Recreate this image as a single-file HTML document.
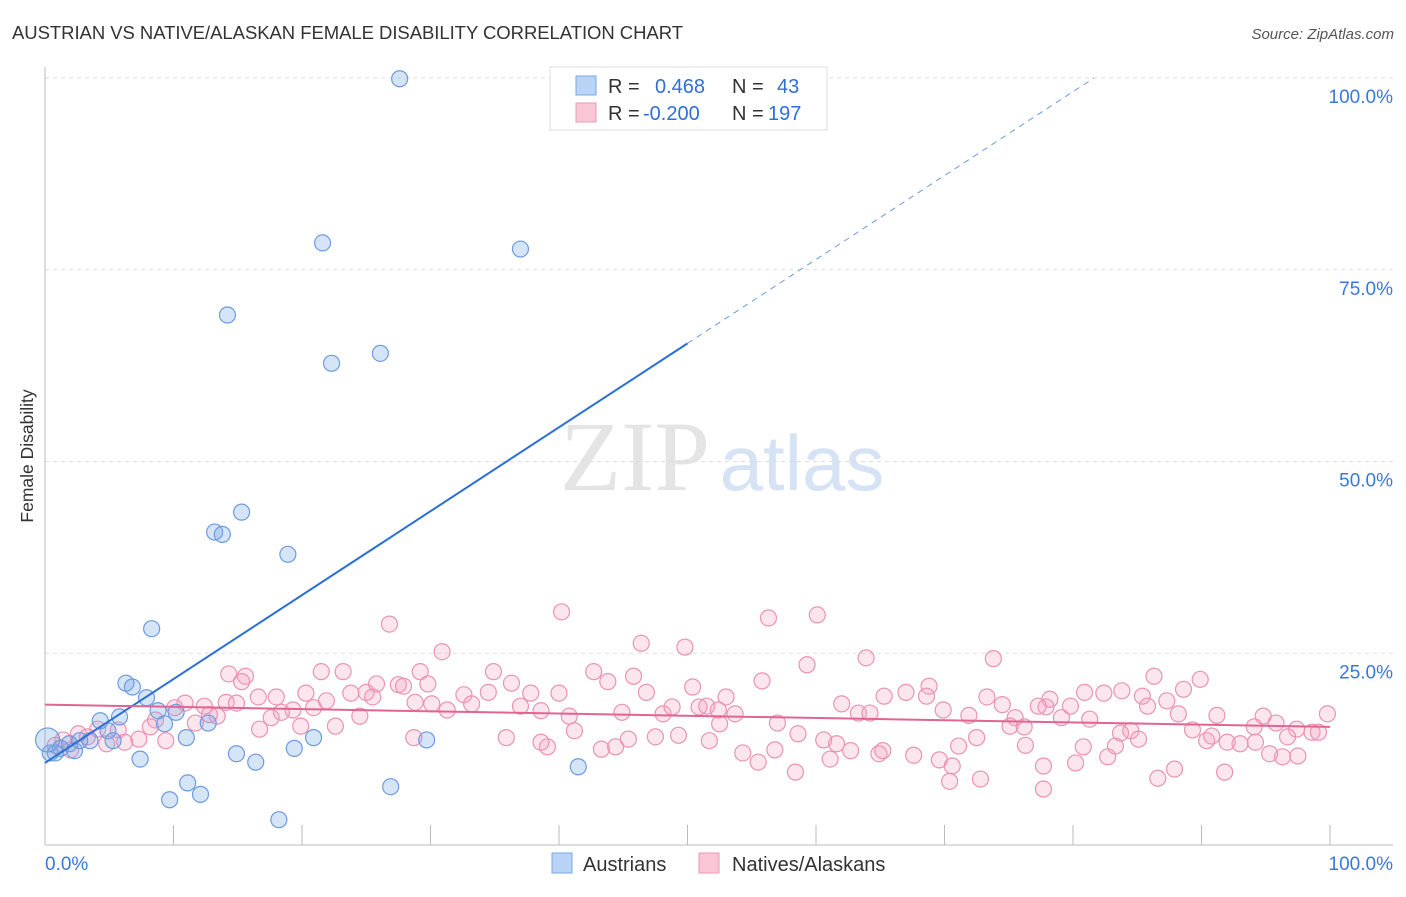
<!DOCTYPE html>
<html><head><meta charset="utf-8"><style>
body{margin:0;background:#fff;font-family:"Liberation Sans",sans-serif;}
</style></head><body>
<svg id="chart" width="1406" height="892" xmlns="http://www.w3.org/2000/svg" style="font-family:'Liberation Sans',sans-serif">
<text x="12" y="39" font-size="18.5" fill="#333" textLength="671">AUSTRIAN VS NATIVE/ALASKAN FEMALE DISABILITY CORRELATION CHART</text>
<text x="1394" y="39" font-size="15" fill="#555" font-style="italic" text-anchor="end">Source: ZipAtlas.com</text>
<text transform="translate(33,456) rotate(-90)" font-size="17.5" fill="#333" text-anchor="middle">Female Disability</text>
<g><text x="635" y="490" font-size="100" fill="#e4e4e4" font-family="'Liberation Serif',serif" text-anchor="middle">ZIP</text><text x="802" y="490" font-size="78" fill="#d5e3f5" text-anchor="middle">atlas</text></g>
<g id="grid"></g><g id="axes"></g><g id="pink"></g><g id="blue"></g><g id="lines"></g>
<g>
<rect x="550" y="67" width="277" height="63" fill="#fff" stroke="#ddd"/>
<rect x="576" y="76" width="20" height="19" fill="#b8d3f5" stroke="#7aa7e6"/>
<rect x="576" y="103" width="20" height="19" fill="#f9c6d6" stroke="#ec9ab5"/>
<text x="608" y="93" font-size="20" fill="#333">R = <tspan x="655" fill="#2f6fd6">0.468</tspan><tspan x="732">N =</tspan><tspan x="777" fill="#2f6fd6">43</tspan></text>
<text x="608" y="120" font-size="20" fill="#333">R = <tspan x="643" fill="#2f6fd6">-0.200</tspan><tspan x="732">N =</tspan><tspan x="768" fill="#2f6fd6">197</tspan></text>
</g>
<g>
<rect x="552" y="853" width="20" height="20" fill="#b8d3f5" stroke="#7aa7e6"/>
<text x="583" y="871" font-size="20" fill="#333">Austrians</text>
<rect x="699" y="853" width="20" height="20" fill="#f9c6d6" stroke="#ec9ab5"/>
<text x="732" y="871" font-size="20" fill="#333">Natives/Alaskans</text>
</g>
</svg>
<script>
const yTicks=[25,50,75,100];
const yTickLabels=["25.0%","50.0%","75.0%","100.0%"];
const blueX=[27.6,21.6,37.0,14.2,22.3,26.1,15.3,13.2,13.8,18.9,8.3,6.3,6.8,7.9,5.8,4.3,8.8,9.3,10.2,12.7,4.9,5.3,3.5,2.7,1.9,1.2,0.4,0.8,2.3,11.0,14.9,16.4,7.4,20.9,19.4,29.7,41.5,11.1,12.1,9.7,26.9,18.2,0.2];
const blueY=[99.9,78.5,77.7,69.1,62.8,64.1,43.4,40.8,40.5,37.9,28.2,21.1,20.6,19.2,16.7,16.2,17.5,15.8,17.3,15.9,14.9,13.6,13.6,13.6,13.2,12.6,12.0,12.0,12.3,14.0,11.9,10.8,11.2,14.0,12.6,13.7,10.2,8.1,6.6,5.9,7.6,3.3,13.7];
const pinkX=[40.2,26.8,56.3,60.1,46.4,49.8,30.9,73.8,63.9,59.3,21.5,23.2,34.9,14.3,15.6,42.7,45.8,86.3,43.8,55.8,68.8,89.9,29.2,15.3,25.8,27.5,27.9,29.8,36.3,50.4,88.6,16.6,18.0,20.3,23.8,25.0,32.6,34.5,37.8,40.0,46.8,53.0,65.3,67.0,68.6,80.9,82.4,83.8,85.4,78.2,87.3,73.3,74.5,77.9,79.8,85.8,10.9,12.4,14.1,14.9,19.3,20.9,21.9,25.5,28.8,30.1,31.3,33.2,37.0,38.6,40.8,44.9,48.1,48.8,50.9,51.5,52.4,53.7,57.0,62.0,63.3,64.2,69.9,71.9,75.5,77.3,79.1,81.3,88.2,91.2,94.8,95.8,99.8,98.6,97.4,96.7,94.2,93.0,92.0,90.4,89.3,84.5,83.7,83.3,80.8,76.3,75.1,72.5,71.1,69.6,67.6,64.9,62.7,61.6,60.6,58.6,56.8,54.3,51.7,49.3,47.5,45.4,44.4,43.3,41.2,39.1,38.6,35.9,28.7,22.6,19.9,17.6,13.4,9.4,7.3,5.7,4.1,2.6,1.4,0.8,4.8,6.2,8.6,11.7,16.7,55.5,58.4,70.6,72.8,77.7,80.2,82.7,87.9,86.6,91.8,96.3,95.3,97.5,99.1,70.4,77.7,61.1,65.2,52.5,85.1,76.2,90.8,94.1,2.0,3.3,8.2,10.1,12.8,18.4,24.5];
const pinkY=[30.4,28.8,29.6,30.0,26.3,25.8,25.2,24.3,24.4,23.5,22.6,22.6,22.6,22.3,22.0,22.6,22.0,22.0,21.3,21.4,20.7,21.6,22.6,21.3,21.0,20.9,20.7,21.0,21.1,20.6,20.3,19.3,19.3,19.8,19.8,19.9,19.6,19.9,19.8,19.8,19.9,19.3,19.4,19.9,19.4,19.9,19.8,20.1,19.4,19.0,18.8,19.3,18.3,18.0,18.1,18.1,18.5,18.1,18.6,18.5,17.6,17.9,18.8,19.3,18.6,18.4,17.6,18.4,18.1,17.5,16.8,17.3,17.1,18.0,18.0,18.1,17.6,17.1,15.9,18.4,17.2,17.2,17.6,16.9,16.6,18.1,16.6,16.4,17.1,16.9,16.8,15.9,17.1,14.7,15.1,14.1,13.4,13.2,13.4,13.6,15.0,14.9,14.6,12.9,12.8,13.0,15.5,14.0,12.9,11.1,11.7,11.9,12.3,13.2,13.7,14.5,12.4,12.0,13.6,14.3,14.1,13.8,12.8,12.5,14.9,12.8,13.4,14.0,14.0,15.5,15.5,16.6,16.8,13.6,13.8,15.0,15.1,14.5,13.7,13.0,13.2,13.4,16.3,15.9,15.1,10.8,9.5,10.3,8.6,10.3,10.7,11.5,9.9,8.7,9.5,11.5,11.9,11.6,14.7,8.3,7.3,11.2,12.3,15.8,13.8,15.4,14.2,15.4,12.4,14.1,15.4,17.9,17.0,17.3,16.8];
const blueFit=[10.7,1.094];
const pinkFit=[18.3,-0.029];

const NS="http://www.w3.org/2000/svg";
const X0=45,X1=1330,Y0=845,Y1=78;
const sx=v=>X0+(X1-X0)*v/100;
const sy=v=>Y0-(Y0-Y1)*v/100;
function mk(tag,attrs,parent){const e=document.createElementNS(NS,tag);for(const k in attrs)e.setAttribute(k,attrs[k]);document.getElementById(parent).appendChild(e);return e;}

yTicks.forEach((t,i)=>{
  const g=mk('line',{x1:X0,x2:1393,y1:sy(t),y2:sy(t),stroke:'#ddd','stroke-dasharray':'4,4'},'grid');
  
  
  const l=mk('text',{x:1393,y:sy(t)+25,'font-size':19,fill:'#3a78d8','text-anchor':'end'},'grid');
  l.textContent=yTickLabels[i];
  
  
});
const ya=mk('line',{x1:X0,x2:X0,y1:67,y2:Y0,stroke:'#bbb'},'axes');


const xa=mk('line',{x1:X0,x2:1393,y1:Y0,y2:Y0,stroke:'#bbb'},'axes');


for(let i=0;i<=10;i++){
  const t=mk('line',{x1:sx(i*10),x2:sx(i*10),y1:Y0-20,y2:Y0,stroke:'#bbb'},'axes');
  
  
}
const xl0=mk('text',{x:45,y:870,'font-size':19,fill:'#3a78d8'},'axes');xl0.textContent='0.0%';


const xl1=mk('text',{x:1393,y:870,'font-size':19,fill:'#3a78d8','text-anchor':'end'},'axes');xl1.textContent='100.0%';



pinkX.forEach((x,i)=>{
  const c=mk('circle',{cx:sx(x),cy:sy(pinkY[i]),r:8,fill:'rgba(244,160,190,0.28)',stroke:'#ea93b3','stroke-width':1.2},'pink');
  
  
});
blueX.forEach((x,i)=>{
  const big=i===blueX.length-1;
  const c=mk('circle',{cx:sx(x),cy:sy(blueY[i]),r:big?12:8,fill:'rgba(120,165,230,0.3)',stroke:'#6c9be0','stroke-width':1.2},'blue');
  
  
});
const bSolidEnd=50, bEnd=(100-blueFit[0])/blueFit[1];
const bl=mk('line',{x1:sx(0),y1:sy(blueFit[0]),x2:sx(bSolidEnd),y2:sy(blueFit[0]+blueFit[1]*bSolidEnd),stroke:'#2a6fd6','stroke-width':2},'lines');


const bd=mk('line',{x1:sx(bSolidEnd),y1:sy(blueFit[0]+blueFit[1]*bSolidEnd),x2:sx(bEnd),y2:sy(100),stroke:'#6c9be0','stroke-width':1,'stroke-dasharray':'6,5'},'lines');


const pl=mk('line',{x1:sx(0),y1:sy(pinkFit[0]),x2:sx(100),y2:sy(pinkFit[0]+pinkFit[1]*100),stroke:'#e06592','stroke-width':2},'lines');


</script>
</body></html>
